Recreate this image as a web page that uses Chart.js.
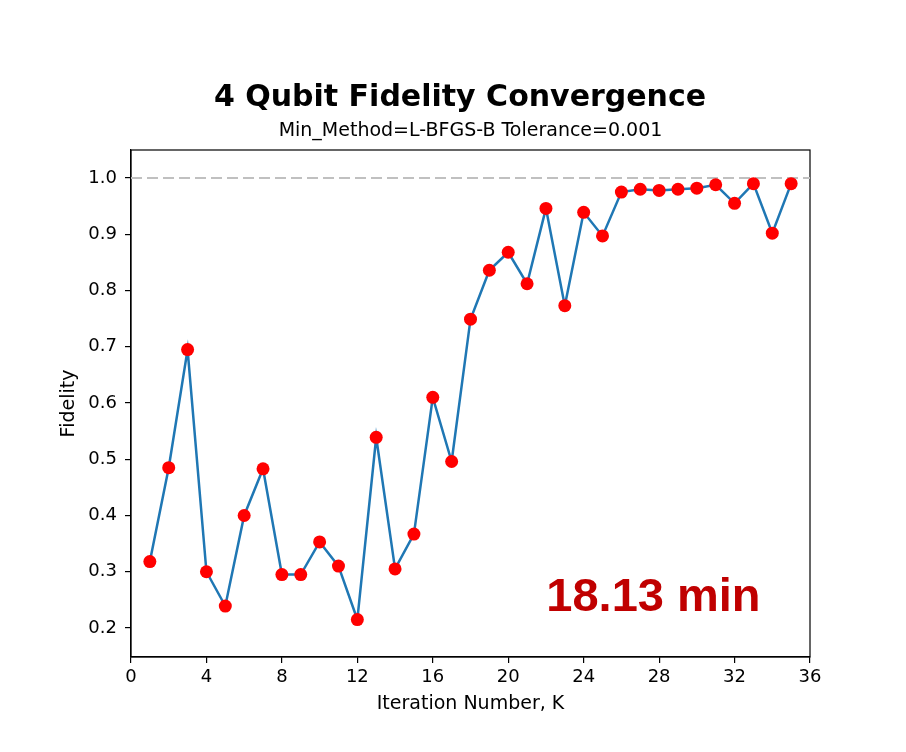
<!DOCTYPE html>
<html>
<head>
<meta charset="utf-8">
<script src="https://cdn.jsdelivr.net/npm/chart.js@4/dist/chart.umd.min.js"></script>
<style>
  html, body { margin: 0; padding: 0; background: #fff; }
  #wrap { width: 906px; height: 752px; }
</style>
</head>
<body>
<div id="wrap"><canvas id="c" width="906" height="752"></canvas></div>
<script>
// ---- data ----
const iterations = [1,2,3,4,5,6,7,8,9,10,11,12,13,14,15,16,17,18,19,20,21,22,23,24,25,26,27,28,29,30,31,32,33,34,35];
const fidelity = [0.318,0.485,0.695,0.300,0.239,0.400,0.483,0.295,0.295,0.353,0.310,0.215,0.539,0.305,0.367,0.610,0.496,0.749,0.836,0.868,0.812,0.946,0.773,0.939,0.897,0.975,0.980,0.978,0.980,0.982,0.988,0.955,0.990,0.902,0.990];
const targetFidelity = 1.0;
const xTicks = [0,4,8,12,16,20,24,28,32,36];
const yTicks = [0.2,0.3,0.4,0.5,0.6,0.7,0.8,0.9,1.0];
const titleText = '4 Qubit Fidelity Convergence';
const subtitleText = 'Min_Method=L-BFGS-B Tolerance=0.001';
const xLabel = 'Iteration Number, K';
const yLabel = 'Fidelity';
const annotationText = '18.13 min';
const annotationAt = { x: 27.7, y: 0.253 };

Chart.defaults.font.family = "'DejaVu Sans', sans-serif";
Chart.defaults.color = '#000';

const points = iterations.map((k, i) => ({ x: k, y: fidelity[i] }));
const refLine = [{ x: xTicks[0], y: targetFidelity }, { x: xTicks[xTicks.length - 1], y: targetFidelity }];

const framePlugin = {
  id: 'frame',
  beforeDatasetsDraw(chart) {
    const a = chart.chartArea, ctx = chart.ctx;
    ctx.save();
    ctx.strokeStyle = '#000';
    ctx.lineWidth = 1.2;
    ctx.strokeRect(a.left, a.top, a.right - a.left, a.bottom - a.top);
    ctx.restore();
  }
};

const textPlugin = {
  id: 'texts',
  afterDraw(chart) {
    const ctx = chart.ctx, a = chart.chartArea;
    ctx.save();
    ctx.fillStyle = '#000';
    ctx.textAlign = 'center';
    ctx.textBaseline = 'middle';
    ctx.font = "bold 30px 'DejaVu Sans'";
    ctx.fillText(titleText, 460, 98);
    ctx.font = "19px 'DejaVu Sans'";
    ctx.fillText(subtitleText, (a.left + a.right) / 2, 131);
    const xs = chart.scales.x, ys = chart.scales.y;
    ctx.fillStyle = '#c00000';
    ctx.font = "bold 47px 'Liberation Sans'";
    ctx.fillText(annotationText, xs.getPixelForValue(annotationAt.x), ys.getPixelForValue(annotationAt.y));
    ctx.restore();
  }
};

new Chart(document.getElementById('c'), {
  type: 'line',
  data: {
    datasets: [
      {
        data: points,
        borderColor: '#1f77b4',
        borderWidth: 2.5,
        pointBackgroundColor: '#ff0000',
        pointBorderColor: '#ff0000',
        pointRadius: 6.5,
        pointBorderWidth: 0,
        tension: 0,
        order: 1
      },
      {
        data: refLine,
        borderColor: '#c0c0c0',
        borderWidth: 2,
        borderDash: [11, 5],
        pointRadius: 0,
        order: 2
      }
    ]
  },
  options: {
    responsive: false,
    animation: false,
    events: [],
    layout: { padding: { left: 54, right: 96, top: 150, bottom: 33 } },
    plugins: { legend: { display: false }, tooltip: { enabled: false }, title: { display: false } },
    scales: {
      x: {
        type: 'linear',
        min: 0, max: 36,
        afterBuildTicks(s) { s.ticks = xTicks.map(v => ({ value: v })); },
        afterFit(s) { s.height = 62; },
        ticks: { font: { size: 18 }, padding: 4, maxRotation: 0, callback: v => String(v) },
        grid: { display: true, drawOnChartArea: false, drawTicks: true, tickLength: 6, color: '#000', lineWidth: 1.2 },
        border: { display: true, color: '#000', width: 1.2 },
        title: { display: true, text: xLabel, font: { size: 19 } }
      },
      y: {
        type: 'linear',
        min: 0.1484, max: 1.0498,
        afterBuildTicks(s) { s.ticks = yTicks.map(v => ({ value: v })); },
        afterFit(s) { s.width = 77; },
        ticks: { font: { size: 18 }, padding: 8, callback: v => Number(v).toFixed(1) },
        grid: { display: true, drawOnChartArea: false, drawTicks: true, tickLength: 6, color: '#000', lineWidth: 1.2 },
        border: { display: true, color: '#000', width: 1.2 },
        title: { display: true, text: yLabel, font: { size: 19 } }
      }
    }
  },
  plugins: [framePlugin, textPlugin]
});
</script>
</body>
</html>
